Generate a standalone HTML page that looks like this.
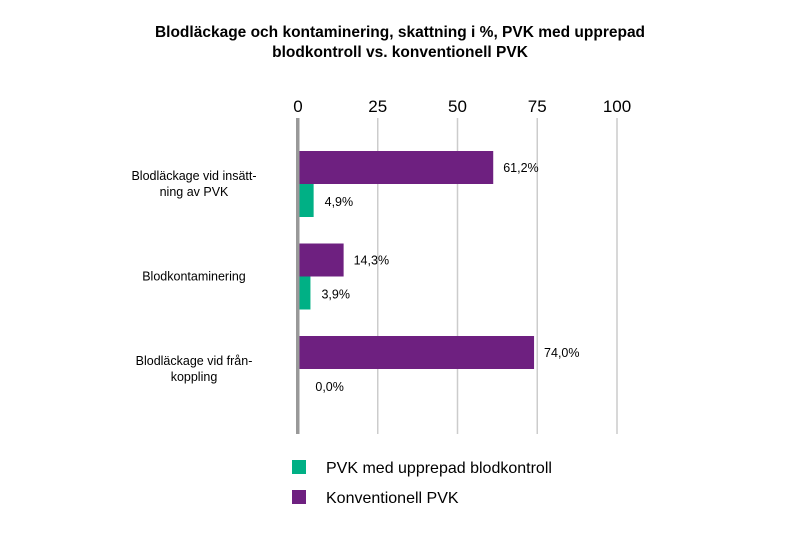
<!DOCTYPE html>
<html><head><meta charset="utf-8"><style>
body{margin:0;background:#fff;font-family:"Liberation Sans",Arial,sans-serif}
svg text{font-family:"Liberation Sans",Arial,sans-serif}
</style></head><body>
<svg width="800" height="533" viewBox="0 0 800 533">
<text x="400" y="37" text-anchor="middle" font-size="15.5" font-weight="bold">Blodläckage och kontaminering, skattning i %, PVK med upprepad</text>
<text x="400" y="57" text-anchor="middle" font-size="15.5" font-weight="bold">blodkontroll vs. konventionell PVK</text>
<g id="grid"></g><g id="bars"></g><g id="cats"></g>
<rect x="296" y="118" width="3.5" height="316" fill="#999"/>
<rect x="292" y="460" width="14" height="14" fill="#00b085"/>
<text x="326" y="473" font-size="16">PVK med upprepad blodkontroll</text>
<rect x="292" y="490" width="14" height="14" fill="#6e2080"/>
<text x="326" y="503" font-size="16">Konventionell PVK</text>
</svg>
<script>
const categories=[["Blodläckage vid insätt-","ning av PVK"],["Blodkontaminering"],["Blodläckage vid från-","koppling"]];
const konventionell=[61.2,14.3,74.0];
const upprepad=[4.9,3.9,0.0];
const ticks=[0,25,50,75,100];
const NS="http://www.w3.org/2000/svg";
const x0=298,scale=3.19,top0=151,groupStep=92.5,barH=33;
const X=v=>x0+v*scale;
function mk(t,a,parent){const e=document.createElementNS(NS,t);for(const k in a)e.setAttribute(k,a[k]);document.getElementById(parent).appendChild(e);return e;}
const fmt=v=>v.toFixed(1).replace('.',',')+'%';
ticks.forEach(t=>{
  if(t>0){const l=mk('line',{x1:X(t),x2:X(t),y1:118,y2:434,stroke:'#ccc','stroke-width':1.5},'grid');
  
  }
  const tx=mk('text',{x:X(t),y:112,'text-anchor':'middle','font-size':17},'grid');tx.textContent=t;
  
  
});
categories.forEach((c,i)=>{
  const y=top0+i*groupStep;
  const r1=mk('rect',{x:x0,y:y,width:Math.max(0,X(konventionell[i])-x0),height:barH,fill:'#6e2080'},'bars');
  
  
  const t1=mk('text',{x:X(konventionell[i])+10,y:y+21,'font-size':12.5},'bars');t1.textContent=fmt(konventionell[i]);
  
  
  const r2=mk('rect',{x:x0,y:y+barH,width:Math.max(0,X(upprepad[i])-x0),height:barH,fill:'#00b085'},'bars');
  
  
  const t2=mk('text',{x:Math.max(X(upprepad[i]),X(2))+11,y:y+barH+22,'font-size':12.5},'bars');t2.textContent=fmt(upprepad[i]);
  
  
  const cy=y+barH+4-(c.length-1)*8;
  c.forEach((ln,j)=>{const ct=mk('text',{x:194,y:cy+j*16,'text-anchor':'middle','font-size':12.5},'cats');ct.textContent=ln;
    
    });
});
</script>
</body></html>
